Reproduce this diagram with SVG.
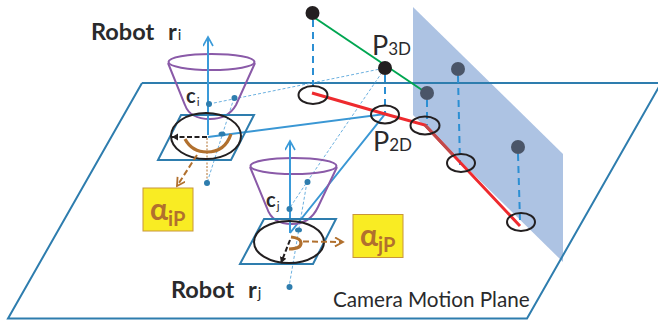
<svg xmlns="http://www.w3.org/2000/svg" width="658" height="327" viewBox="0 0 658 327">
<defs>
<marker id="open-blue" markerWidth="12" markerHeight="12" refX="10" refY="5" orient="auto" markerUnits="userSpaceOnUse"><path d="M1 0L10 5L1 10" fill="none" stroke="#3a9ad9" stroke-width="1.6"/></marker>
<marker id="open-black" markerWidth="8" markerHeight="8" refX="6" refY="3.5" orient="auto" markerUnits="userSpaceOnUse"><path d="M0 0L6 3.5L0 7Z" fill="#231f20"/></marker>
<marker id="open-brown" markerWidth="12" markerHeight="12" refX="9" refY="5" orient="auto" markerUnits="userSpaceOnUse"><path d="M1 0.5L9 5L1 9.5" fill="none" stroke="#b1702e" stroke-width="1.8"/></marker>
</defs>
<style>
text{font-family:"Lato","Open Sans",sans-serif;fill:#2a2a2c}
.edge{fill:none;stroke:#2e7dae;stroke-width:2}
.ring{fill:none;stroke:#231f20;stroke-width:2}
.cone{fill:none;stroke:#8a5aa8;stroke-width:2}
.axis{fill:none;stroke:#3a9ad9;stroke-width:2}
.ray{fill:none;stroke:#3a97d4;stroke-width:2}
.thin{fill:none;stroke:#6db1e0;stroke-width:1;stroke-dasharray:3 2}
.drop{fill:none;stroke:#2c8fd3;stroke-width:2;stroke-dasharray:7 5}
.dot{fill:#2e7dae}
.dark{fill:#4a5568}
.black{fill:#231f20}
.arc{fill:none;stroke:#b1702e;stroke-width:3.2}
.bdash{fill:none;stroke:#b1702e;stroke-width:2;stroke-dasharray:6 3}
.kdash{fill:none;stroke:#231f20;stroke-width:2;stroke-dasharray:5 2.5}
.box{fill:#f9ec23;stroke:#c8963a;stroke-width:1}
.alpha{font-weight:700;fill:#b1702e}
.robot{font-size:23.500px;font-weight:700}
.p{font-size:27px}
.sub{font-size:17px}
</style>
<g id="panel"><path d="M413 7L563 154V262L413 115Z" fill="#adc3e3"/></g>
<g id="camera-plane">
<path class="edge" d="M142 83H658M142 83L8 318.500H527L660 85"/>
<text x="333" y="307" font-size="20.700">Camera Motion Plane</text>
</g>
<g id="connectors">
<path class="thin" d="M209 104L385 68M234 98L207 183M385 68L307 182L289 209M307 182L289 287"/>
<path class="ray" d="M208 137L385 114L290 233"/>
<path class="drop" d="M313 20V92M385 75V113M427 100V125M458 76L460 165M518 154L520 220"/>
<path d="M315 18L425 92" fill="none" stroke="#00a651" stroke-width="2"/>
<path d="M312 93L385 114L425 125L520 226" fill="none" stroke="#ee2a2e" stroke-width="3"/>
<path d="M425 125L453 155" fill="none" stroke="#c24a4a" stroke-width="3"/>
</g>
<g id="trajectory-points">
<circle class="black" cx="312.500" cy="13" r="7"/>
<circle class="black" cx="385" cy="68" r="7"/>
<circle class="dark" cx="427" cy="93" r="7"/>
<circle class="dark" cx="458" cy="69" r="7"/>
<circle class="dark" cx="518" cy="147" r="7"/>
<ellipse class="ring" cx="313" cy="95" rx="14.500" ry="9"/>
<ellipse class="ring" cx="385" cy="114.500" rx="14" ry="9"/>
<ellipse class="ring" cx="425" cy="125.500" rx="14.500" ry="9"/>
<ellipse class="ring" cx="461" cy="163" rx="14" ry="9"/>
<ellipse class="ring" cx="521" cy="222" rx="14" ry="9"/>
<text class="p" x="372" y="55">P<tspan class="sub">3D</tspan></text>
<text class="p" x="373" y="151">P<tspan class="sub">2D</tspan></text>
</g>
<g id="robot-i">
<path class="cone" d="M168 63L185 105Q190 119 210 119Q228 119 236 105L255 63"/>
<ellipse class="cone" cx="211.500" cy="62" rx="43" ry="8"/>
<path class="axis" d="M208 135V37" marker-end="url(#open-blue)"/>
<path d="M207 138V182" fill="none" stroke="#b1702e" stroke-width="1" stroke-dasharray="2 1.500"/>
<path class="edge" d="M181 115H254L231 160H158Z"/>
<ellipse class="ring" cx="206" cy="136" rx="35" ry="23"/>
<path class="arc" d="M185 139Q192 152 207 152Q225 152 231 134"/>
<path class="kdash" d="M207 137H172" marker-end="url(#open-black)"/>
<path class="bdash" d="M197 155L177 186" marker-end="url(#open-brown)"/>
<circle class="dot" cx="209" cy="104" r="3"/>
<circle class="dot" cx="234.500" cy="98" r="3"/>
<ellipse class="dot" cx="222" cy="134" rx="3.500" ry="2.500"/>
<circle class="dot" cx="207" cy="183" r="3"/>
<text x="186" y="103" font-size="20" font-weight="700">c<tspan font-size="12" dy="3" dx="1" font-weight="400">i</tspan></text>
<text class="robot" x="91" y="40">Robot</text>
<text class="robot" x="168" y="40">r<tspan font-size="15" font-weight="400" dx="1">i</tspan></text>
<rect class="box" x="143" y="188" width="50" height="43"/>
<text class="alpha" x="150" y="220" font-size="30">α<tspan font-size="20" dy="6">iP</tspan></text>
</g>
<g id="robot-j">
<path class="cone" d="M250 167L267 208Q272 224 292 224Q310 224 318 207L337 167"/>
<ellipse class="cone" cx="293.500" cy="166" rx="43" ry="8"/>
<path class="axis" d="M290 233V141" marker-end="url(#open-blue)"/>
<path class="edge" d="M264 219H336L313 264H240Z"/>
<ellipse class="ring" cx="289" cy="242" rx="35" ry="21"/>
<path class="arc" d="M291 237Q301 238 301 243Q301 249 289 249"/>
<path class="kdash" d="M290 240L281 263" marker-end="url(#open-black)"/>
<path class="bdash" d="M303 241.500L343 242" marker-end="url(#open-brown)"/>
<circle class="dot" cx="289.500" cy="209" r="3"/>
<circle class="dot" cx="307.500" cy="182" r="3"/>
<ellipse class="dot" cx="298.500" cy="230" rx="3.500" ry="2.500"/>
<circle class="dot" cx="289.500" cy="287" r="3"/>
<text x="266" y="207" font-size="20" font-weight="700">c<tspan font-size="12" dy="3" dx="1" font-weight="400">j</tspan></text>
<text class="robot" x="171" y="298">Robot</text>
<text class="robot" x="248" y="298">r<tspan font-size="15" font-weight="400" dx="1">j</tspan></text>
<rect class="box" x="353" y="214.500" width="50" height="43"/>
<text class="alpha" x="360" y="246" font-size="30">α<tspan font-size="20" dy="6">jP</tspan></text>
</g>
</svg>
